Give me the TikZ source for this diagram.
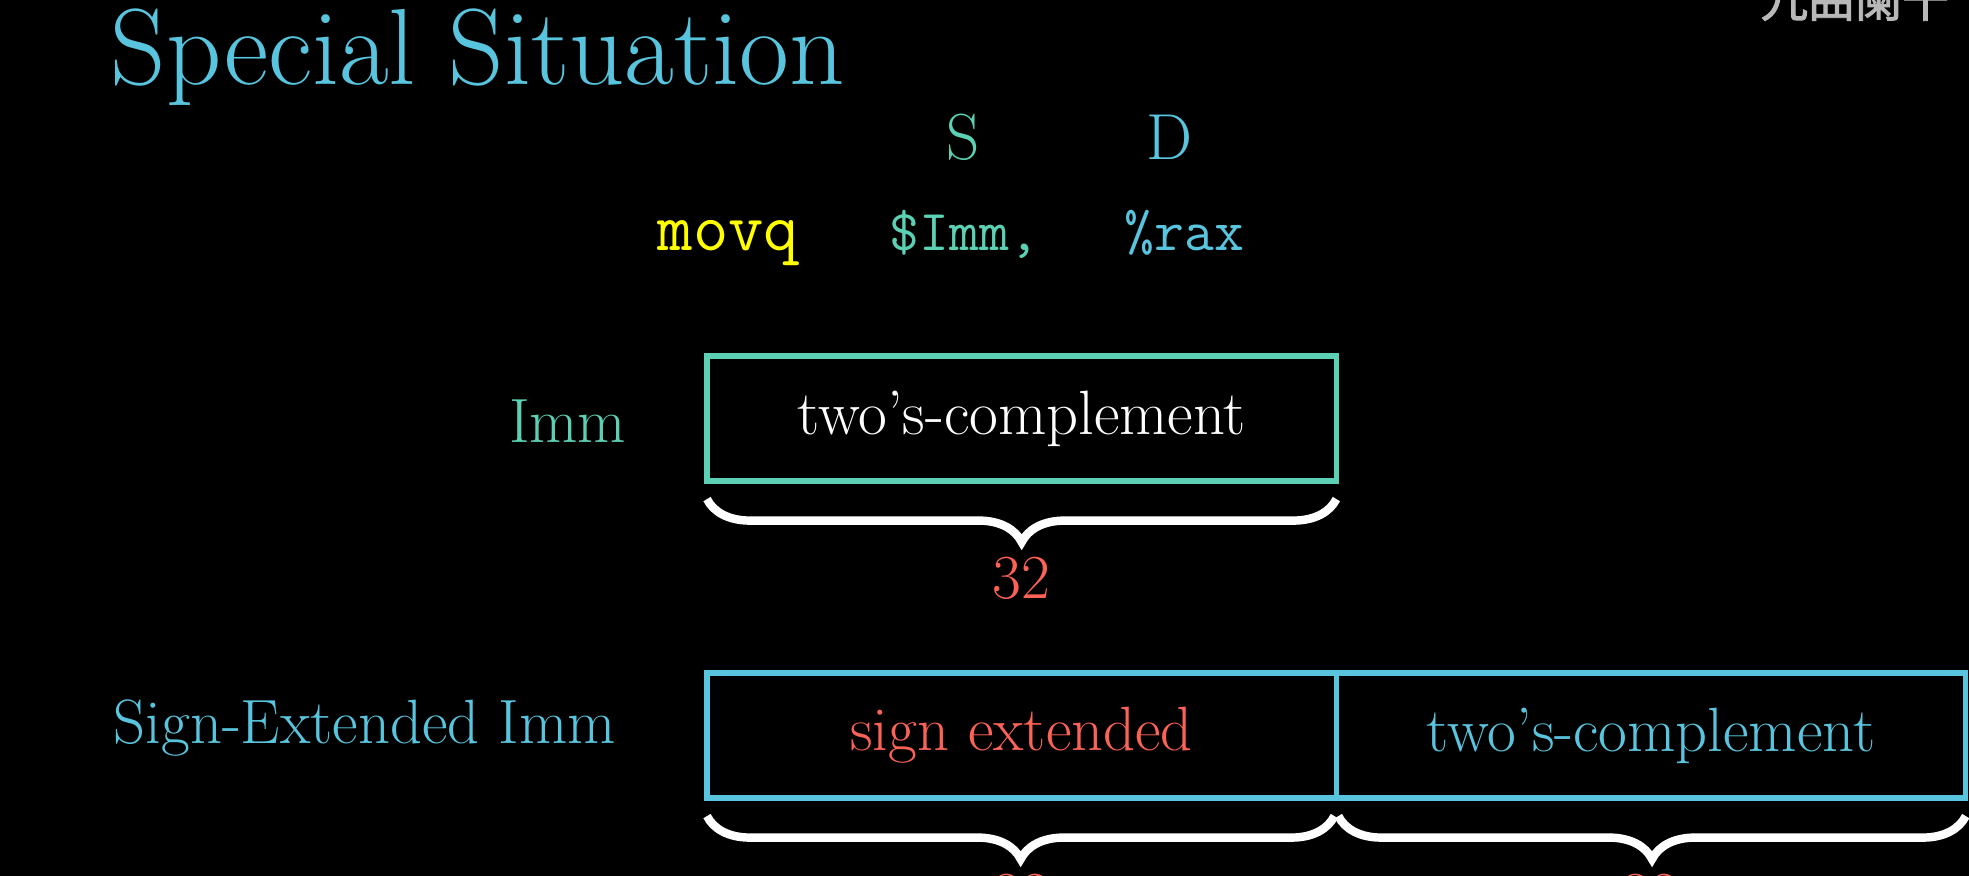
\documentclass[tikz,border=0pt]{standalone}
\usepackage{fontspec}
\newfontfamily\cjk[FakeBold=2]{Noto Sans CJK SC}
\usetikzlibrary{decorations.pathreplacing}
\definecolor{mblue}{HTML}{58C4DD}
\definecolor{mteal}{HTML}{5CD0B3}
\definecolor{myellow}{HTML}{FFFF00}
\definecolor{mred}{HTML}{FC6255}

\begin{document}
\begin{tikzpicture}[x=0.01cm,y=-0.01cm,
    txt/.style={inner sep=0pt,font=\fontsize{17.8}{21}\selectfont},
    code/.style={inner sep=0pt,anchor=base west,font=\fontsize{16.5}{19}\selectfont\ttfamily},
    cell/.style={draw,line width=1.5pt,anchor=north west,inner sep=0pt,outer sep=0pt,
      minimum height=1.25cm,font=\fontsize{17.8}{21}\selectfont},
    bitbrace/.style={draw=white,line width=2.4pt,decorate,
      decoration={brace,mirror,amplitude=0.43cm}}]
  \fill[black] (0,0) rectangle (1969,876);
  \clip (0,0) rectangle (1969,876);
  % title and watermark
  \node[inner sep=0pt,anchor=base west,text=mblue,font=\fontsize{30.8}{34}\selectfont] (title) at (110,85) {Special Situation};
  \node[inner sep=0pt,anchor=base west,text=white!72!black,font=\cjk\fontsize{13.4}{14}\selectfont] (mark) at (1760,17) {九曲阑干};
  % instruction
  \node[txt,text=mteal,font=\fontsize{18.5}{21}\selectfont] (src) at (963,137) {S};
  \node[txt,text=mblue,font=\fontsize{18.5}{21}\selectfont] (dst) at (1169,137) {D};
  \node[code,text=myellow,font=\fontsize{19.5}{22}\selectfont\ttfamily] (op) at (657,251) {movq};
  \node[code,text=mteal] (arg1) at (889,251) {\$Imm,};
  \node[code,text=mblue] (arg2) at (1124,251) {\%rax};
  % 32-bit immediate
  \node[cell,draw=mteal,text=white,minimum width=6.29cm] (imm) at (707,356) {two's-complement};
  \node[txt,text=mteal,anchor=east] (immlbl) at (627,421) {Imm};
  \draw[bitbrace] ([yshift=-0.18cm]imm.south west) -- ([yshift=-0.18cm]imm.south east);
  \node[txt,text=mred] (n1) at (1021,578) {32};
  % sign-extended immediate
  \node[cell,draw=mblue,text=mred,minimum width=6.29cm] (sgn) at (707,673) {sign extended};
  \node[cell,draw=mblue,text=mblue,minimum width=6.29cm] (low) at (sgn.north east) {two's-complement};
  \node[txt,text=mblue,anchor=west] (extlbl) at (113,728) {Sign-Extended Imm};
  \draw[bitbrace] ([yshift=-0.18cm]sgn.south west) -- ([xshift=-0.02cm,yshift=-0.18cm]sgn.south east);
  \draw[bitbrace] ([xshift=0.02cm,yshift=-0.18cm]low.south west) -- ([yshift=-0.18cm]low.south east);
  \node[txt,text=mred] (n2) at (1021,895) {32};
  \node[txt,text=mred] (n3) at (1650,895) {32};
\end{tikzpicture}
\end{document}
